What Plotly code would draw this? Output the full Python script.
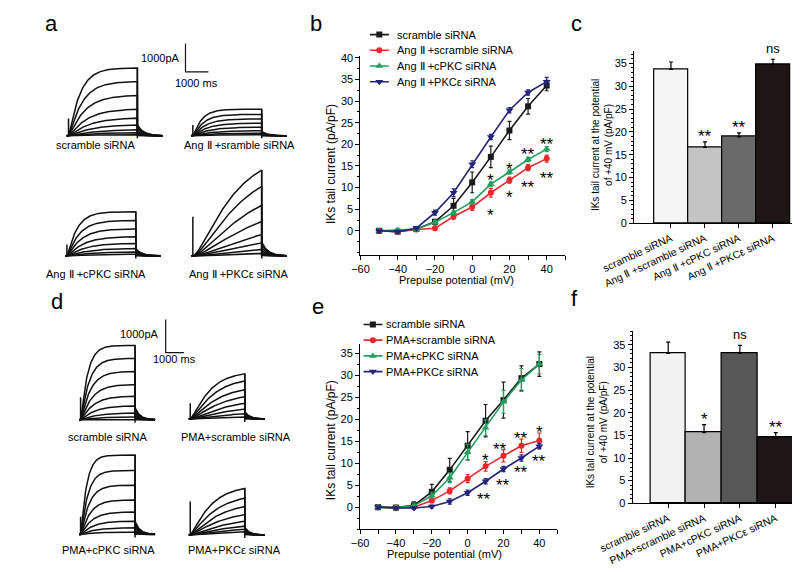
import numpy as np
import plotly.graph_objects as go

W, H = 800, 572
FONT = "Liberation Sans, Arial, sans-serif"

# ---------------- data ----------------
volts = [-50, -40, -30, -20, -10, 0, 10, 20, 30, 40]

# panel b (Ang II)
b_names = ["scramble siRNA", "Ang Ⅱ +scramble siRNA", "Ang Ⅱ +cPKC siRNA", "Ang Ⅱ +PKCε siRNA"]
b_scr = [0, -0.2, 0.4, 2.1, 5.8, 11.2, 17.1, 23.2, 28.8, 33.6]
b_scr_err = [0.3, 0.3, 0.3, 0.5, 1.7, 2.4, 2.5, 2.1, 1.8, 1.2]
b_ang = [0, -0.2, 0.3, 0.6, 3.3, 5.5, 8.8, 11.7, 14.6, 16.7]
b_ang_err = [0.3, 0.3, 0.3, 0.5, 0.6, 0.8, 1.0, 0.7, 0.7, 0.8]
b_cpkc = [0, 0.2, 0.4, 2.0, 4.2, 6.7, 10.8, 13.6, 16.5, 18.9]
b_cpkc_err = [0.3, 0.3, 0.3, 0.4, 0.4, 0.5, 0.5, 0.5, 0.5, 0.6]
b_pkce = [0, -0.2, 0.6, 4.2, 8.8, 15.4, 21.7, 27.9, 32.0, 34.5]
b_pkce_err = [0.3, 0.3, 0.3, 0.6, 0.9, 0.8, 0.6, 0.6, 0.6, 1.0]
b_star_x = [10, 10, 20, 20, 30, 30, 40, 40]
b_star_y = [4.8, 12.9, 8.8, 15.4, 11.2, 18.8, 13.3, 21.1]
b_star_t = ["*", "*", "*", "*", "**", "**", "**", "**"]

# panel e (PMA)
e_names = ["scramble siRNA", "PMA+scramble siRNA", "PMA+cPKC siRNA", "PMA+PKCε siRNA"]
e_scr = [0, -0.1, 0.4, 3.5, 8.5, 14.0, 19.7, 24.4, 29.4, 32.6]
e_scr_err = [0.2, 0.2, 0.8, 1.7, 2.6, 3.2, 3.7, 4.1, 2.8, 2.8]
e_pma = [0, -0.1, 0.0, 1.5, 3.7, 6.5, 9.3, 11.7, 14.0, 15.2]
e_pma_err = [0.2, 0.2, 0.3, 0.5, 0.7, 0.9, 1.1, 1.4, 1.5, 1.7]
e_cpkc = [0, -0.1, 0.3, 2.6, 6.7, 12.5, 18.1, 24.0, 29.0, 32.6]
e_cpkc_err = [0.2, 0.2, 0.4, 0.8, 1.1, 1.8, 1.8, 2.6, 2.6, 2.2]
e_pkce = [0, -0.2, -0.2, 0.15, 1.3, 3.3, 5.9, 8.7, 11.2, 13.9]
e_pkce_err = [0.2, 0.2, 0.2, 0.3, 0.6, 0.6, 0.6, 0.6, 0.7, 0.6]
e_star_x = [10, 18, 30, 40, 9, 19.7, 30, 40]
e_star_y = [11.7, 14.3, 16.7, 18.2, 2.8, 6.1, 9.0, 11.5]
e_star_t = ["*", "**", "**", "*", "**", "**", "**", "**"]

# bar panels c and f (+40 mV)
c_labels = ["scramble siRNA", "Ang Ⅱ +scramble siRNA", "Ang Ⅱ +cPKC siRNA", "Ang Ⅱ +PKCε siRNA"]
c_vals = [33.7, 16.6, 18.9, 34.8]
c_err = [1.6, 1.2, 0.9, 1.1]
c_sig = ["", "**", "**", "ns"]
f_labels = ["scramble siRNA", "PMA+scramble siRNA", "PMA+cPKC siRNA", "PMA+PKCε siRNA"]
f_vals = [33.1, 15.6, 33.2, 14.5]
f_err = [2.5, 1.8, 1.7, 1.1]
f_sig = ["", "*", "ns", "**"]

# current traces: end-of-step amplitude of each sweep (pA)
a_scr_amp = [2380, 1900, 1410, 930, 620, 380, 210, 110, 40]
a_ang_amp = [930, 750, 590, 440, 300, 180, 90, 35]
a_cpkc_amp = [1550, 1240, 950, 670, 440, 260, 140, 60]
a_pkce_amp = [3010, 2440, 1780, 1210, 750, 460, 230, 90]
d_scr_amp = [2245, 1850, 1455, 1060, 712, 415, 200, 80, 20]
d_pma_amp = [1365, 1150, 890, 675, 475, 300, 160, 60]
d_cpkc_amp = [2395, 1930, 1485, 1040, 673, 396, 198, 69]
d_pkce_amp = [1405, 1110, 860, 615, 415, 267, 170, 100]
# activation time constant (ms), sigmoid power, onset artefact (pA) per cell
a_tau = [450, 350, 400, 1400]
a_pow = [1.2, 1.2, 1.2, 1.6]
a_spike = [610, 380, 400, 1380]
d_tau = [350, 900, 300, 1000]
d_pow = [1.2, 1.4, 1.2, 1.3]
d_spike = [680, 475, 534, 1010]
a_labels = ["scramble siRNA", "Ang Ⅱ +sramble siRNA", "Ang Ⅱ +cPKC siRNA", "Ang Ⅱ +PKCε siRNA"]
d_labels = ["scramble siRNA", "PMA+scramble siRNA", "PMA+cPKC siRNA", "PMA+PKCε siRNA"]
SCALE_PA = 1000
SCALE_MS = 1000
STEP_MS = 3000
TAIL_MS = 1100

BLACK = "#1a1a1a"
RED = "#e8262b"
GREEN = "#22a05c"
NAVY = "#25247c"
c_colors = ["#f5f5f5", "#c4c4c4", "#6a6a6a", "#1e1515"]
f_colors = ["#f2f2f2", "#b2b2b2", "#575757", "#1f1717"]


def dom_x(a, b):
    return [a / W, b / W]


def dom_y(top, bottom):
    return [1 - bottom / H, 1 - top / H]


fig = go.Figure()
ann = []


def text(x, y, s, size=11, xanchor="center", yanchor="middle", angle=0, xref="paper", yref="paper", yshift=0):
    if xref == "paper":
        x = x / W
    if yref == "paper":
        y = 1 - y / H
    ann.append(dict(x=x, y=y, xref=xref, yref=yref, text=s, showarrow=False, xanchor=xanchor,
                    yanchor=yanchor, textangle=angle, yshift=yshift,
                    font=dict(family=FONT, size=size, color="black")))


# ---------------- current traces (a, d) ----------------
def cell_xy(amps, tau, pw, spike, t0, base):
    t = np.linspace(0, STEP_MS, 120)
    tt = np.linspace(0, TAIL_MS, 50)
    xs, ys = [], []
    for i, amp in enumerate(amps):
        k = tau * (1 + 0.2 * i)
        rise = (1 - np.exp(-t / k)) ** pw
        rise = amp * rise / rise[-1]
        tail = amp * 0.16 * np.exp(-tt / 280)
        xs += list(t0 + np.concatenate([[-80], t, STEP_MS + tt])) + [None]
        ys += list(base + np.concatenate([[0], rise, tail])) + [None]
    xs += [t0, t0, None, t0 + STEP_MS, t0 + STEP_MS]
    ys += [base, base + spike, None, base + amps[0], base - 90]
    return xs, ys


panels = [
    dict(ax="", box=(0, 20, 270, 275), sx=0.024, sy=0.029,
         amps=[a_scr_amp, a_ang_amp, a_cpkc_amp, a_pkce_amp], tau=a_tau, pw=a_pow, spike=a_spike,
         cells=[(26.7, 126), (156.7, 126), (25, 248.3), (156.7, 248.3)],
         corner=(149, 61), labels=a_labels, lab_pos=[(55, 135), (206, 135), (55, 267), (205, 267)],
         pa_txt=(145, 47), ms_txt=(161, 72)),
    dict(ax="4", box=(0, 290, 270, 565), sx=0.019, sy=0.0337,
         amps=[d_scr_amp, d_pma_amp, d_cpkc_amp, d_pkce_amp], tau=d_tau, pw=d_pow, spike=d_spike,
         cells=[(39.3, 415), (154, 414.3), (39.3, 531.7), (154, 532.3)],
         corner=(128.3, 346.7), labels=d_labels, lab_pos=[(68, 433), (202, 433), (68, 548), (200, 548)],
         pa_txt=(123, 327.7), ms_txt=(138, 352.7)),
]

axes = {}
for p in panels:
    l, t, r, b = p["box"]
    sx, sy = p["sx"], p["sy"]
    xa, ya = "x" + p["ax"], "y" + p["ax"]
    for k in range(4):
        cx, cy = p["cells"][k]
        xs, ys = cell_xy(p["amps"][k], p["tau"][k], p["pw"][k], p["spike"][k],
                         (cx - l) / sx, (b - cy) / sy)
        fig.add_trace(go.Scatter(x=xs, y=ys, mode="lines", line=dict(color="#111", width=1.5),
                                 xaxis=xa, yaxis=ya, showlegend=False, hoverinfo="skip"))
        text(*p["lab_pos"][k], p["labels"][k], size=11)
    cx, cy = (p["corner"][0] - l) / sx, (b - p["corner"][1]) / sy
    fig.add_trace(go.Scatter(x=[cx, cx, cx + SCALE_MS], y=[cy + SCALE_PA, cy, cy], mode="lines",
                             line=dict(color="#111", width=1.2), xaxis=xa, yaxis=ya,
                             showlegend=False, hoverinfo="skip"))
    text(*p["pa_txt"], f"{SCALE_PA}pA", xanchor="right")
    text(*p["ms_txt"], f"{SCALE_MS} ms")
    axes["xaxis" + p["ax"]] = dict(domain=dom_x(l, r), range=[0, (r - l) / sx], visible=False,
                                   anchor=ya, fixedrange=True)
    axes["yaxis" + p["ax"]] = dict(domain=dom_y(t, b), range=[0, (b - t) / sy], visible=False,
                                   anchor=xa, fixedrange=True)

# ---------------- I-V curves (b, e) ----------------
line_axis = dict(showline=True, linecolor="black", linewidth=1.2, ticks="outside", ticklen=4,
                 tickcolor="black", tickwidth=1, showgrid=False, zeroline=False,
                 tickfont=dict(family=FONT, size=11, color="black"))


def iv_panel(ax, legax, names, series, errs, star_x, star_y, star_t, xdom, ydom, yrange, legdom):
    cols = [BLACK, RED, GREEN, NAVY]
    syms = ["square", "circle", "triangle-up", "triangle-down"]
    sizes = [6, 6, 7, 7]
    for name, vals, err, c, s, z in zip(names, series, errs, cols, syms, sizes):
        fig.add_trace(go.Scatter(x=volts, y=vals, mode="lines+markers", name=name,
                                 line=dict(color=c, width=1.6),
                                 marker=dict(symbol=s, size=z, color=c),
                                 error_y=dict(type="data", array=err, color=c, thickness=1.2, width=2),
                                 xaxis="x" + ax, yaxis="y" + ax, showlegend=False, cliponaxis=False))
    for x, y, s in zip(star_x, star_y, star_t):
        ann.append(dict(x=x, y=y, xref="x" + ax, yref="y" + ax, text=s, showarrow=False,
                        yshift=-5, font=dict(family=FONT, size=17, color="black")))
    axes["xaxis" + ax] = dict(line_axis, domain=dom_x(*xdom), range=[-60, 50], anchor="y" + ax,
                              tickvals=[-60, -40, -20, 0, 20, 40],
                              minor=dict(dtick=10, tick0=0, ticklen=4, ticks="outside", tickcolor="black"))
    axes["yaxis" + ax] = dict(line_axis, domain=dom_y(*ydom), range=yrange, anchor="x" + ax,
                              tickvals=[0, 5, 10, 15, 20, 25, 30, 35, 40][: int(yrange[1] // 5) + 1],
                              minor=dict(dtick=2.5, tick0=0, ticklen=2, ticks="outside", tickcolor="black"))
    # legend drawn on its own small axis, one row per series
    for i, (name, c, s, z) in enumerate(zip(names, cols, syms, sizes)):
        fig.add_trace(go.Scatter(x=[0, 20], y=[i, i], mode="lines", line=dict(color=c, width=1.6),
                                 xaxis="x" + legax, yaxis="y" + legax, showlegend=False, hoverinfo="skip"))
        fig.add_trace(go.Scatter(x=[10], y=[i], mode="markers", marker=dict(symbol=s, size=z, color=c),
                                 xaxis="x" + legax, yaxis="y" + legax, showlegend=False, hoverinfo="skip"))
        ann.append(dict(x=legdom[2], y=i, xref="x" + legax, yref="y" + legax, text=name, showarrow=False,
                        xanchor="left", font=dict(family=FONT, size=11, color="black")))
    axes["xaxis" + legax] = dict(domain=dom_x(legdom[0], legdom[0] + 140), range=[0, 140],
                                 anchor="y" + legax, visible=False)
    axes["yaxis" + legax] = dict(domain=dom_y(legdom[1], legdom[1] + 64), range=[3.5, -0.5],
                                 anchor="x" + legax, visible=False)


iv_panel("2", "7", b_names, [b_scr, b_ang, b_cpkc, b_pkce], [b_scr_err, b_ang_err, b_cpkc_err, b_pkce_err],
         b_star_x, b_star_y, b_star_t, (332, 546.2), (44.5, 246.9), [-5.5, 40.5], (341.7, 15, 26))
iv_panel("5", "8", e_names, [e_scr, e_pma, e_cpkc, e_pkce], [e_scr_err, e_pma_err, e_cpkc_err, e_pkce_err],
         e_star_x, e_star_y, e_star_t, (331.6, 537.8), (337.4, 526.3), [-5, 37.3], (335, 310, 22))

text(302, 155, "IKs tail current (pA/pF)", size=12, angle=-90)
text(432, 273, "Prepulse potential (mV)", size=11)
text(302, 436, "IKs tail current (pA/pF)", size=12, angle=-90)
text(420, 552, "Prepulse potential (mV)", size=11)


# ---------------- bar charts (c, f) ----------------
def bar_panel(ax, labels, vals, err, sig, colors, xdom, ydom, xrange, yrange):
    fig.add_trace(go.Bar(x=list(range(len(vals))), y=vals, width=1, marker=dict(color=colors,
                         line=dict(color="black", width=1.2)),
                         error_y=dict(type="data", array=err, arrayminus=[0] * len(err), symmetric=False,
                                      color="black", thickness=1.2, width=2),
                         xaxis="x" + ax, yaxis="y" + ax, showlegend=False))
    for i, (v, e, s) in enumerate(zip(vals, err, sig)):
        if s:
            ann.append(dict(x=i, y=v + e, xref="x" + ax, yref="y" + ax, text=s, showarrow=False,
                            yanchor="bottom", yshift=-6 if "*" in s else 1,
                            font=dict(family=FONT, size=17 if "*" in s else 13, color="black")))
    axes["xaxis" + ax] = dict(line_axis, domain=dom_x(*xdom), range=xrange, tickvals=list(range(len(vals))),
                              anchor="y" + ax, ticktext=labels, tickangle=-25,
                              tickfont=dict(family=FONT, size=10.5, color="black"))
    axes["yaxis" + ax] = dict(line_axis, domain=dom_y(*ydom), range=yrange, tickvals=list(range(0, 36, 5)),
                              anchor="x" + ax,
                              minor=dict(dtick=1, tick0=0, ticklen=2, ticks="outside", tickcolor="black"))


bar_panel("3", c_labels, c_vals, c_err, c_sig, c_colors, (618.3, 800), (40.2, 215), [-1.08, 4.03], [0, 37.6])
bar_panel("6", f_labels, f_vals, f_err, f_sig, f_colors, (616.7, 800), (325, 500), [-0.99, 3.9], [0, 38])

text(584, 135, "IKs tail current at the potential<br>of +40 mV (pA/pF)", size=10, angle=-90)
text(579, 418, "IKs tail current at the potential<br>of +40 mV (pA/pF)", size=10, angle=-90)

# panel letters
for s, x, y in [("a", 9, 12), ("b", 285, 12), ("c", 558, 12), ("d", 15, 295), ("e", 288, 300), ("f", 556, 292)]:
    text(x, y, s, size=22)

fig.update_layout(width=W, height=H, margin=dict(l=0, r=0, t=0, b=0), paper_bgcolor="white",
                  plot_bgcolor="white", bargap=0, annotations=ann, **axes)
fig.write_html("out.html")
